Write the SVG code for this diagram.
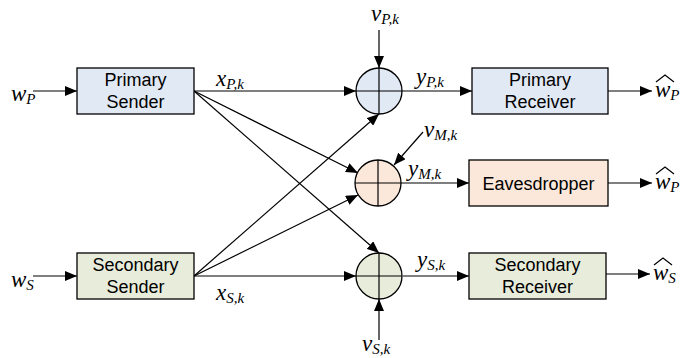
<svg xmlns="http://www.w3.org/2000/svg" width="686" height="358" viewBox="0 0 686 358">
<style>
.box{stroke:#000;stroke-width:1.3}
.blue{fill:#e1e9f5}
.peach{fill:#fbe8da}
.green{fill:#e8eddb}
.lbl{font-family:"Liberation Sans",Arial,sans-serif;font-size:18px;fill:#000;text-anchor:middle}
.m{font-family:"Liberation Serif","Times New Roman",serif;font-style:italic;font-size:23px;fill:#000}
.s{font-size:15px}
.ln{stroke:#000;stroke-width:1.2;fill:none}
.arr{stroke:#000;stroke-width:1.2;fill:none;marker-end:url(#ah)}
</style>
<defs>
<marker id="ah" markerWidth="12" markerHeight="10" refX="12" refY="5" orient="auto" markerUnits="userSpaceOnUse">
<path d="M0,0 L12,5 L0,10 Z" fill="#000"/>
</marker>
</defs>
<g id="connectors">
<line class="arr" x1="33" y1="91" x2="77" y2="91"/>
<line class="arr" x1="33" y1="276" x2="77" y2="276"/>
<line class="arr" x1="194" y1="91" x2="356" y2="91"/>
<line class="arr" x1="194" y1="91" x2="358" y2="173"/>
<line class="arr" x1="194" y1="91" x2="379" y2="253"/>
<line class="arr" x1="194" y1="276" x2="356" y2="276"/>
<line class="arr" x1="194" y1="276" x2="379" y2="114"/>
<line class="arr" x1="194" y1="276" x2="358" y2="195"/>
<line class="arr" x1="379" y1="30" x2="379" y2="68"/>
<line class="arr" x1="423" y1="132" x2="394" y2="165"/>
<line class="arr" x1="379" y1="340" x2="379" y2="299"/>
<line class="arr" x1="402" y1="91" x2="472" y2="91"/>
<line class="arr" x1="401" y1="183" x2="469" y2="183"/>
<line class="arr" x1="403" y1="276" x2="469" y2="276"/>
<line class="arr" x1="608" y1="91" x2="652" y2="91"/>
<line class="arr" x1="608" y1="183" x2="652" y2="183"/>
<line class="arr" x1="606" y1="274" x2="650" y2="274"/>
</g>
<g id="primary-sender">
<rect class="box blue" x="77" y="68" width="117" height="46"/>
<text class="lbl" x="135.5" y="86">Primary</text>
<text class="lbl" x="135.5" y="108">Sender</text>
</g>
<g id="secondary-sender">
<rect class="box green" x="77" y="253" width="117" height="46"/>
<text class="lbl" x="135.5" y="271">Secondary</text>
<text class="lbl" x="135.5" y="293">Sender</text>
</g>
<g id="sum-p">
<circle class="box blue" cx="379" cy="91" r="23"/>
<line class="ln" x1="356" y1="91" x2="402" y2="91"/>
<line class="ln" x1="379" y1="68" x2="379" y2="114"/>
</g>
<g id="sum-m">
<circle class="box peach" cx="378" cy="183" r="23"/>
<line class="ln" x1="355" y1="183" x2="401" y2="183"/>
<line class="ln" x1="378" y1="160" x2="378" y2="206"/>
</g>
<g id="sum-s">
<circle class="box green" cx="379" cy="276" r="23"/>
<line class="ln" x1="356" y1="276" x2="402" y2="276"/>
<line class="ln" x1="379" y1="253" x2="379" y2="299"/>
</g>
<g id="primary-receiver">
<rect class="box blue" x="472" y="68" width="136" height="46"/>
<text class="lbl" x="540" y="86">Primary</text>
<text class="lbl" x="540" y="108">Receiver</text>
</g>
<g id="eavesdropper">
<rect class="box peach" x="469" y="160" width="139" height="46"/>
<text class="lbl" x="538.5" y="190">Eavesdropper</text>
</g>
<g id="secondary-receiver">
<rect class="box green" x="469" y="253" width="137" height="46"/>
<text class="lbl" x="537.5" y="271">Secondary</text>
<text class="lbl" x="537.5" y="293">Receiver</text>
</g>
<g id="labels">
<text class="m" x="11" y="101">w<tspan class="s" dy="3">P</tspan></text>
<text class="m" x="11" y="287">w<tspan class="s" dy="3">S</tspan></text>
<text class="m" x="216" y="86">x<tspan class="s" dy="3">P,k</tspan></text>
<text class="m" x="216" y="300">x<tspan class="s" dy="3">S,k</tspan></text>
<text class="m" x="416" y="84">y<tspan class="s" dy="3">P,k</tspan></text>
<text class="m" x="408" y="176">y<tspan class="s" dy="3">M,k</tspan></text>
<text class="m" x="417" y="267">y<tspan class="s" dy="3">S,k</tspan></text>
<text class="m" x="371" y="21">v<tspan class="s" dy="3">P,k</tspan></text>
<text class="m" x="424" y="137">v<tspan class="s" dy="3">M,k</tspan></text>
<text class="m" x="362" y="351">v<tspan class="s" dy="3">S,k</tspan></text>
<text class="m" x="655" y="97">w<tspan class="s" dy="3">P</tspan></text>
<text class="m" x="655" y="189">w<tspan class="s" dy="3">P</tspan></text>
<text class="m" x="653" y="280">w<tspan class="s" dy="3">S</tspan></text>
<path class="ln" d="M656,82 L665,75 L674,82" stroke-width="1"/>
<path class="ln" d="M656,174 L665,167 L674,174" stroke-width="1"/>
<path class="ln" d="M654,265 L663,258 L672,265" stroke-width="1"/>
</g>
</svg>
